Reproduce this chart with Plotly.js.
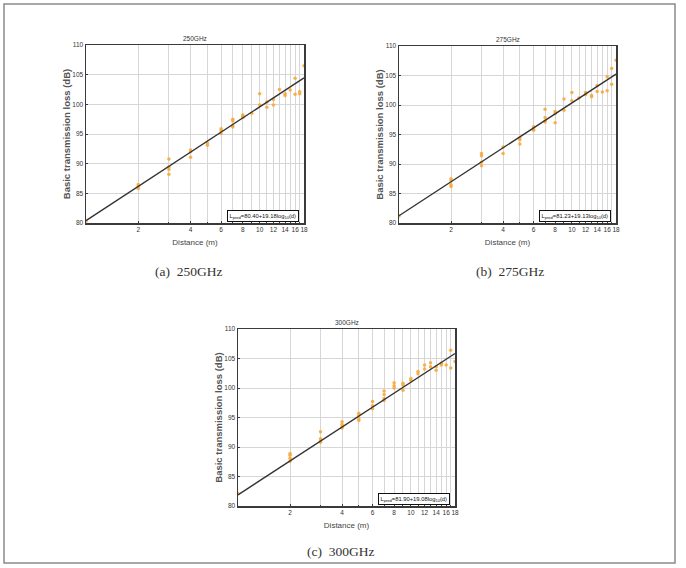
<!DOCTYPE html>
<html>
<head>
<meta charset="utf-8">
<script src="https://cdn.plot.ly/plotly-3.0.1.min.js"></script>
<style>html,body{margin:0;padding:0;background:#fff;}#chart{width:686px;height:568px;}</style>
</head>
<body>
<div id="chart"></div>
<script>
// ---- data ----
const d250 = [1, 2,2,2, 3,3,3,3, 4,4,4, 5,5, 6,6,6, 7,7,7,7, 8,8,8, 9, 10,10, 11,11, 12,12, 13, 14,14, 15, 16,16, 17,17, 18];
const L250 = [80.3, 86.5,86.2,85.8, 90.8,89.4,89.0,88.2, 92.3,92.0,91.1, 93.5,93.1, 95.9,95.6,95.1, 97.5,97.2,96.4,96.2, 98.2,98.0,97.8, 98.5, 101.8,99.9, 100.4,99.5, 100.8,99.9, 102.5, 101.8,101.5, 102.4, 104.4,101.7, 102.1,101.8, 106.5];

const d275 = [1, 2,2,2,2, 3,3,3,3, 4,4, 5,5,5, 6,6,6, 7,7,7,7, 8,8,8, 9,9, 10,10, 11, 12,12, 13,13, 14,14, 15, 16,16, 17,17, 18];
const L275 = [81.2, 87.5,87.2,86.5,86.2, 91.8,91.4,90.3,89.7, 92.9,91.8, 94.4,94.1,93.4, 96.3,95.9,95.7, 99.3,97.9,97.3,97.1, 98.9,98.5,97.0, 101.0,99.1, 102.1,100.7, 101.2, 102.1,101.8, 101.6,101.4, 103.3,102.3, 102.2, 104.8,102.4, 106.2,103.5, 107.6];

const d300 = [1, 2,2,2,2, 3,3,3,3, 4,4,4,4, 5,5,5,5, 6,6,6, 7,7,7,7, 8,8,8, 9,9,9, 10,10, 11,11, 12,12, 13,13, 14,14, 15,15, 16, 17,17, 18];
const L300 = [82.1, 88.9,88.6,88.1,87.6, 92.6,91.4,91.0,90.8, 94.3,93.8,93.4,93.2, 95.7,95.4,94.8,94.5, 97.7,97.0,96.5, 99.5,98.9,98.2,97.9, 100.9,100.4,100.0, 100.8,100.5,99.6, 101.6,101.3, 102.8,102.4, 103.9,103.2, 104.3,103.6, 103.6,103.0, 104.2,103.9, 103.9, 106.4,103.4, 104.5];

// fitted lines: end points at d = 1 and d = 18
const fitD = [1, 18];
const fit250 = [80.40, 104.47];
const fit275 = [81.23, 105.24];
const fit300 = [81.90, 105.85];

const fitText = ["L<sub>pred</sub>=80.40+19.18log<sub>10</sub>(d)",
                 "L<sub>pred</sub>=81.23+19.13log<sub>10</sub>(d)",
                 "L<sub>pred</sub>=81.90+19.08log<sub>10</sub>(d)"];
const panelTitles = ["250GHz", "275GHz", "300GHz"];
const captions = ["(a)  250GHz", "(b)  275GHz", "(c)  300GHz"];

const xTickVals = [2,4,6,8,10,12,14,16,18];
const xTickText = ["2","4","6","8","10","12","14","16","18"];
const xMinorVals = [3,5,7,9,11,13,15,17];
const yTickVals = [80,85,90,95,100,105,110];

// ---- build ----
const W = 686, H = 568;
const px = v => v / W;
const py = v => 1 - v / H;

const panels = [
  {xs:d250, ys:L250, fy:fit250, x0:86, x1:304, y0:45, y1:223},
  {xs:d275, ys:L275, fy:fit275, x0:399, x1:616, y0:46, y1:223},
  {xs:d300, ys:L300, fy:fit300, x0:238, x1:455, y0:329, y1:506}
];

const traces = [];
const layout = {
  width: W, height: H,
  margin: {l:0, r:0, t:0, b:0},
  paper_bgcolor: '#fff', plot_bgcolor: '#fff',
  showlegend: false,
  annotations: [], shapes: []
};

panels.forEach((p, i) => {
  const n = i === 0 ? '' : String(i + 1);
  const xa = 'x' + n, ya = 'y' + n;
  traces.push({
    x: p.xs, y: p.ys, xaxis: xa, yaxis: ya, type: 'scatter', mode: 'markers',
    marker: {color: '#f7a93b', size: 3.5, opacity: 0.9}, hoverinfo: 'skip'
  });
  traces.push({
    x: fitD, y: p.fy, xaxis: xa, yaxis: ya, type: 'scatter', mode: 'lines',
    line: {color: '#333333', width: 1.4}, hoverinfo: 'skip'
  });
  layout['xaxis' + n] = {
    type: 'log', range: [0, Math.log10(18)],
    domain: [px(p.x0), px(p.x1)], anchor: ya,
    tickmode: 'array', tickvals: xTickVals, ticktext: xTickText, tickangle: 0,
    tickfont: {family: 'Liberation Sans, Arial', size: 6.5, color: '#333'},
    showgrid: true, gridcolor: '#d6d6d6', gridwidth: 1,
    minor: {tickmode: 'array', tickvals: xMinorVals, showgrid: true, gridcolor: '#d6d6d6', gridwidth: 1, ticks: 'inside', ticklen: 1.5, tickcolor: '#3a3a3a'},
    showline: true, linecolor: '#3a3a3a', linewidth: 1.5, mirror: true,
    ticks: 'inside', ticklen: 2, tickcolor: '#3a3a3a',
    zeroline: false,
    title: {text: 'Distance (m)', font: {family: 'Liberation Sans, Arial', size: 8, color: '#444'}, standoff: 7}
  };
  layout['yaxis' + n] = {
    range: [80, 110],
    domain: [py(p.y1), py(p.y0)], anchor: xa,
    tickvals: yTickVals,
    tickfont: {family: 'Liberation Sans, Arial', size: 6.5, color: '#333'},
    showgrid: true, gridcolor: '#d6d6d6', gridwidth: 1,
    showline: true, linecolor: '#3a3a3a', linewidth: 1.5, mirror: true,
    ticks: 'inside', ticklen: 2, tickcolor: '#3a3a3a',
    zeroline: false,
    title: {text: '<b>Basic transmission loss (dB)</b>', font: {family: 'Liberation Sans, Arial', size: 9.5, color: '#555'}, standoff: 0}
  };
  // panel title
  layout.annotations.push({
    xref: xa + ' domain', yref: ya + ' domain', x: 0.5, y: 1, yanchor: 'bottom', xanchor: 'center',
    yshift: 1, showarrow: false, text: panelTitles[i],
    font: {family: 'Liberation Sans, Arial', size: 6.5, color: '#333'}
  });
  // fit equation box
  layout.annotations.push({
    xref: xa + ' domain', yref: ya + ' domain', x: 0.975, y: 0.005, xanchor: 'right', yanchor: 'bottom',
    showarrow: false, text: fitText[i],
    font: {family: 'Liberation Sans, Arial', size: 5.8, color: '#111'},
    bordercolor: '#111', borderwidth: 1, borderpad: 1.5, bgcolor: '#fff'
  });
});

// captions
const capPos = [[189, 271], [510, 271], [340, 551]];
captions.forEach((c, i) => {
  layout.annotations.push({
    xref: 'paper', yref: 'paper', x: px(capPos[i][0]), y: py(capPos[i][1]),
    xanchor: 'center', yanchor: 'middle', showarrow: false, text: c,
    font: {family: 'Liberation Serif, DejaVu Serif, serif', size: 13.5, color: '#333'}
  });
});

// outer frame
layout.shapes.push({
  type: 'rect', xref: 'paper', yref: 'paper',
  x0: px(4), x1: px(675), y0: py(563), y1: py(4),
  line: {color: '#8a8a8a', width: 1.5}
});

Plotly.newPlot('chart', traces, layout, {staticPlot: true, displayModeBar: false});
</script>
</body>
</html>
